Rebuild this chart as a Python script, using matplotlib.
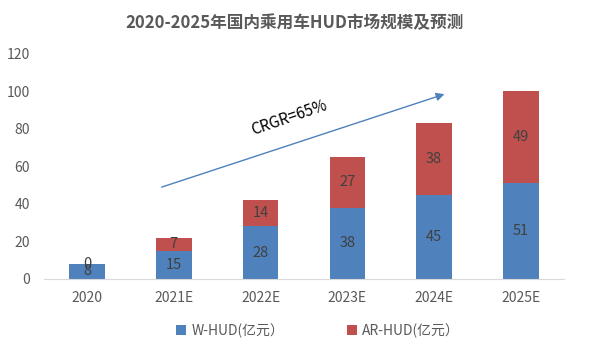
import matplotlib.pyplot as plt

plt.rcParams["font.family"] = ["Noto Sans CJK SC", "DejaVu Sans"]

years = ["2020", "2021E", "2022E", "2023E", "2024E", "2025E"]
w_hud = [8, 15, 28, 38, 45, 51]
ar_hud = [0, 7, 14, 27, 38, 49]

BLUE = "#4F81BD"
RED = "#C0504D"
GREY = "#595959"

fig = plt.figure(figsize=(5.89, 3.5), dpi=100)
ax = fig.add_axes([0.074, 0.203, 0.884, 0.643])

x = range(len(years))
b1 = ax.bar(x, w_hud, width=0.41, color=BLUE, label="W-HUD(亿元）")
b2 = ax.bar(x, ar_hud, width=0.41, bottom=w_hud, color=RED, label="AR-HUD(亿元）")
ax.bar_label(b1, label_type="center", fontsize=10.5, color="#404040")
ax.bar_label(b2, label_type="center", fontsize=10.5, color="#404040")

ax.set_xlim(-0.5, len(years) - 0.5)
ax.set_ylim(0, 120)
ax.set_yticks(range(0, 121, 20))
ax.set_xticks(list(x))
ax.set_xticklabels(years)
ax.tick_params(axis="both", length=0, labelsize=10, colors=GREY)
ax.tick_params(axis="x", pad=9)
ax.tick_params(axis="y", pad=10)
for s in ["top", "right", "left"]:
    ax.spines[s].set_visible(False)
ax.spines["bottom"].set_color("#D9D9D9")

# growth arrow
ax.annotate("", xy=(4.15, 99), xytext=(0.83, 48.5),
            arrowprops=dict(arrowstyle="-|>", color=BLUE, lw=1, mutation_scale=12))
ax.text(2.33, 86, "CRGR=65%", rotation=19, ha="center", va="center", fontsize=11, color="black")

fig.suptitle("2020-2025年国内乘用车HUD市场规模及预测", x=0.5, y=0.96,
             fontsize=12, fontweight="bold", color=GREY)

fig.legend(handles=[b1, b2], loc="center", bbox_to_anchor=(0.54, 0.055), ncol=2, frameon=False,
           fontsize=10, labelcolor=GREY, handlelength=0.7, handleheight=0.7, columnspacing=4.5,
           handletextpad=0.4)

fig.savefig("out.png", dpi=100)
